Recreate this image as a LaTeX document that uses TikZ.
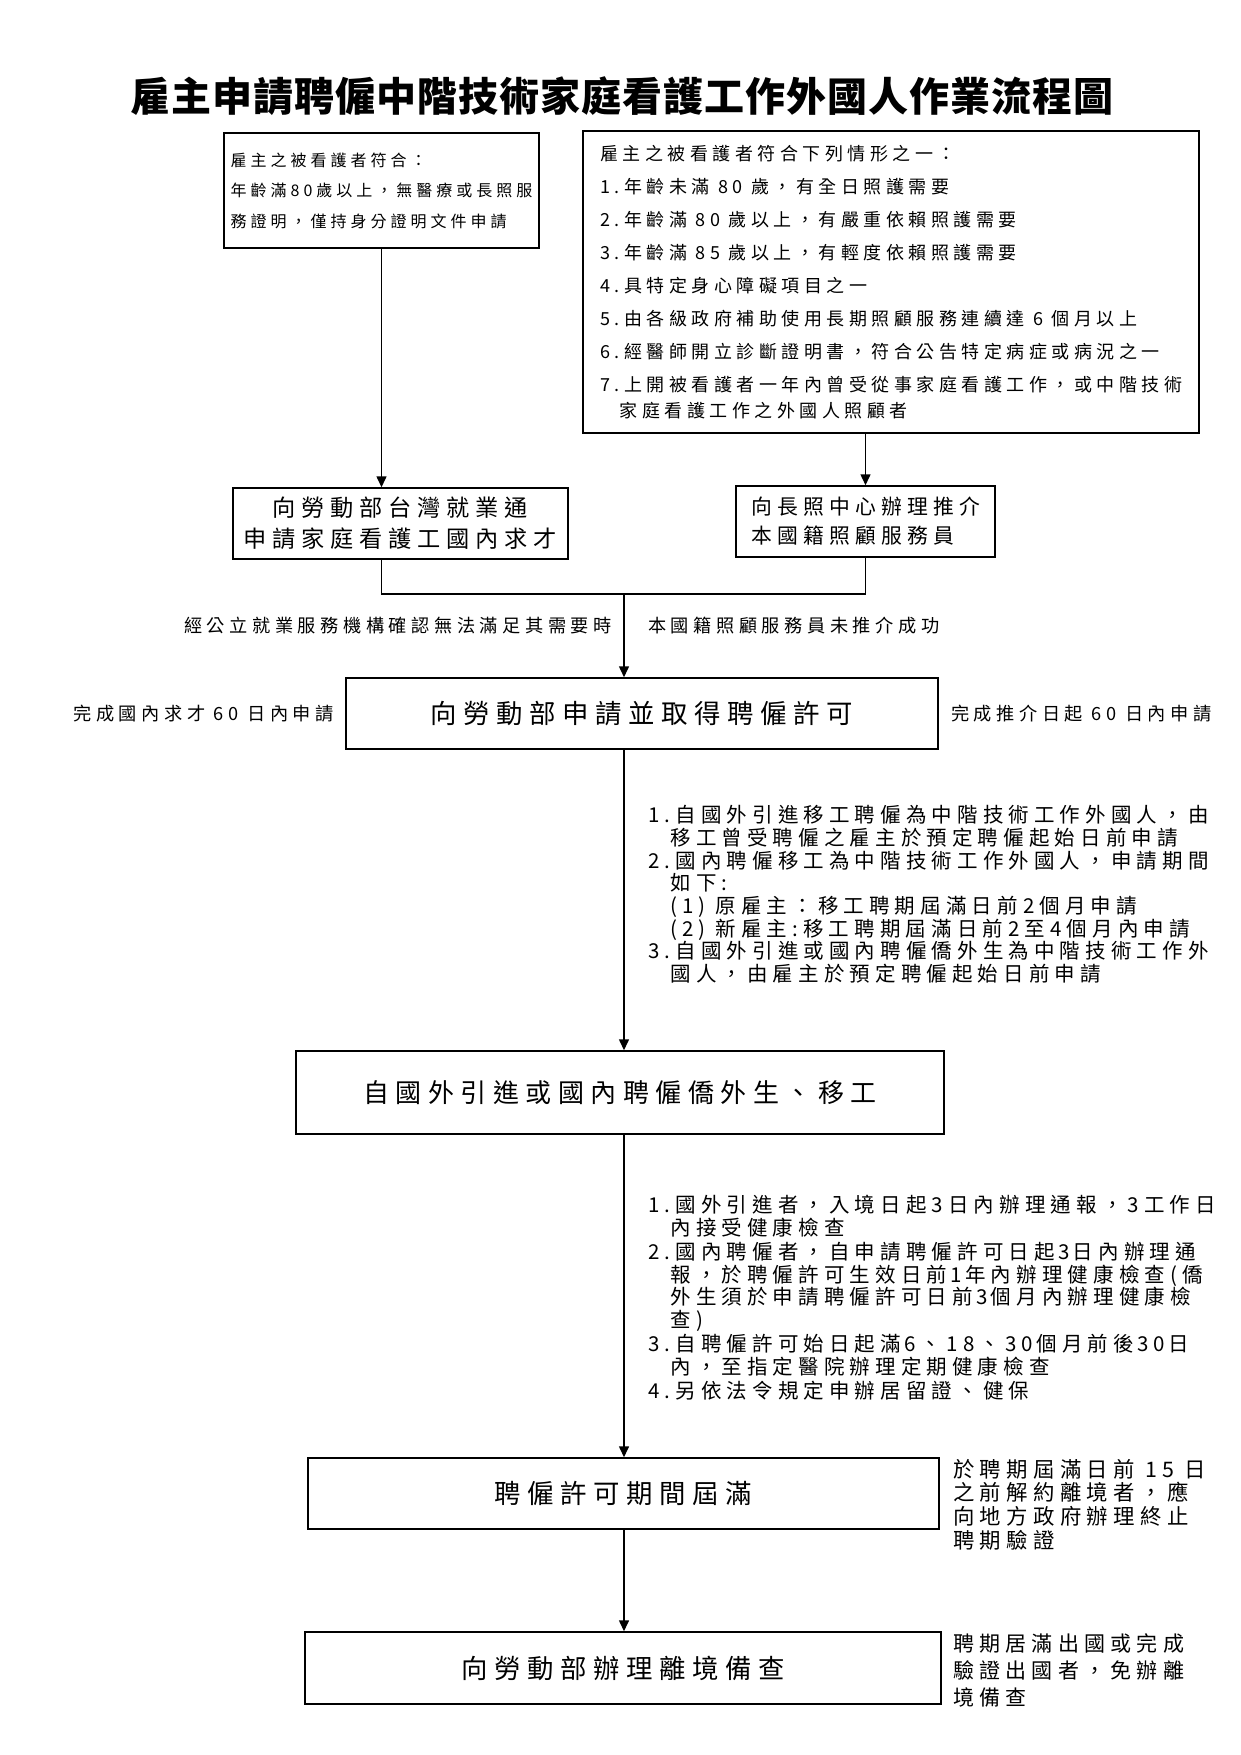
\documentclass[tikz,border=0pt]{standalone}
\usepackage{fontspec}
\setmainfont{Noto Sans CJK TC}[LetterSpace=25]
\usepackage{tikz}
\usetikzlibrary{arrows.meta,calc}
\newcommand{\fsz}[2]{\fontsize{#1pt}{#2pt}\selectfont}

\begin{document}
\begin{tikzpicture}[x=1pt, y=-1pt,
    box/.style={draw, line width=1.5pt, inner sep=0pt},
    note/.style={inner sep=0pt, align=left},
    link/.style={line width=1.5pt},
    arr/.style={link, -{Triangle[length=11pt,width=10pt]}}]
    \useasboundingbox (0,0) rectangle (1241,1755);

    % Title
    \node[inner sep=0pt, font=\fsz{40}{48}\bfseries\addfontfeature{LetterSpace=2.5}] (title) at (622,96) {雇主申請聘僱中階技術家庭看護工作外國人作業流程圖};

    % Who the cared-for person is
    \node[box, minimum width=315, minimum height=115, align=left, font=\fsz{16}{30.5}] (elig1) at (381.5,190.5)
        {雇主之被看護者符合：\\年齡滿80歲以上，無醫療或長照服\\務證明，僅持身分證明文件申請};
    \node[box, minimum width=616, minimum height=302, align=left, font=\fsz{18}{33}] (elig2) at (891,282)
        {雇主之被看護者符合下列情形之一：\\
         1.年齡未滿 80 歲，有全日照護需要\\
         2.年齡滿 80 歲以上，有嚴重依賴照護需要\\
         3.年齡滿 85 歲以上，有輕度依賴照護需要\\
         4.具特定身心障礙項目之一\\
         5.由各級政府補助使用長期照顧服務連續達 6 個月以上\\
         6.經醫師開立診斷證明書，符合公告特定病症或病況之一\\
         7.上開被看護者一年內曾受從事家庭看護工作，或中階技術\\[-7pt]
         \phantom{7.}家庭看護工作之外國人照顧者};

    % Domestic recruiting and local caregiver referral
    \node[box, minimum width=335, minimum height=71, align=center, font=\fsz{23.2}{31}] (jobbank) at (400.5,523.5)
        {向勞動部台灣就業通\\申請家庭看護工國內求才};
    \node[box, minimum width=259, minimum height=71, align=left, font=\fsz{20.8}{29}] (ltc) at (865.5,521.5)
        {向長照中心辦理推介\\本國籍照顧服務員};

    \node[note, anchor=east, font=\fsz{18.2}{22}] (nojob) at (612,626) {經公立就業服務機構確認無法滿足其需要時};
    \node[note, anchor=west, font=\fsz{18.2}{22}] (noref) at (648,626) {本國籍照顧服務員未推介成功};

    % Permit
    \node[box, minimum width=592, minimum height=71, font=\fsz{26.4}{30}] (permit) at (642,713.5) {向勞動部申請並取得聘僱許可};
    \node[note, anchor=east, font=\fsz{18.2}{22}] (due1) at (334,714) {完成國內求才 60 日內申請};
    \node[note, anchor=west, font=\fsz{18.2}{22}] (due2) at (951,714) {完成推介日起 60 日內申請};

    \node[note, anchor=west, font=\fsz{20.5}{22.7}] (rule1) at (648,894.5)
        {1.自國外引進移工聘僱為中階技術工作外國人，由\\
         \phantom{1.}移工曾受聘僱之雇主於預定聘僱起始日前申請\\
         2.國內聘僱移工為中階技術工作外國人，申請期間\\
         \phantom{2.}如下:\\
         \phantom{2.}(1) 原雇主：移工聘期屆滿日前2個月申請\\
         \phantom{2.}(2) 新雇主:移工聘期屆滿日前2至4個月內申請\\
         3.自國外引進或國內聘僱僑外生為中階技術工作外\\
         \phantom{3.}國人，由雇主於預定聘僱起始日前申請};

    % Hiring
    \node[box, minimum width=648, minimum height=83, font=\fsz{26}{30}] (hire) at (620,1092.5) {自國外引進或國內聘僱僑外生、移工};

    \node[note, anchor=west, font=\fsz{20.5}{22.5}] (rule2) at (648,1298)
        {1.國外引進者，入境日起3日內辦理通報，3工作日\\
         \phantom{1.}內接受健康檢查\\[2pt]
         2.國內聘僱者，自申請聘僱許可日起\,3\,日內辦理通\\
         \phantom{2.}報，於聘僱許可生效日前\,1\,年內辦理健康檢查(僑\\
         \phantom{2.}外生須於申請聘僱許可日前\,3\,個月內辦理健康檢\\
         \phantom{2.}查)\\[2pt]
         3.自聘僱許可始日起滿\,6、18、30\,個月前後\,30\,日\\
         \phantom{3.}內，至指定醫院辦理定期健康檢查\\[2pt]
         4.另依法令規定申辦居留證、健保};

    % End of permit
    \node[box, minimum width=631, minimum height=71, font=\fsz{26.4}{30}] (expire) at (623.5,1493.5) {聘僱許可期間屆滿};
    \node[note, anchor=west, font=\fsz{21.4}{23.6}] (expnote) at (953,1504.5)
        {於聘期屆滿日前 15 日\\之前解約離境者，應\\向地方政府辦理終止\\聘期驗證};

    \node[box, minimum width=636, minimum height=72, font=\fsz{26.4}{30}] (exit) at (623,1668) {向勞動部辦理離境備查};
    \node[note, anchor=west, font=\fsz{21}{27}] (exitnote) at (953,1670)
        {聘期居滿出國或完成\\驗證出國者，免辦離\\境備查};

    % Connectors
    \coordinate (join) at (624,594);
    \draw[arr] (elig1.south) -- (elig1.south |- jobbank.north);
    \draw[arr] (ltc.north |- elig2.south) -- (ltc.north);
    \draw[link] (elig1.south |- jobbank.south) |- (join) -| (ltc.south);
    \draw[arr] (join) -- (join |- permit.north);
    \foreach \a/\b in {permit/hire, hire/expire, expire/exit} {
        \draw[arr] (join |- \a.south) -- (join |- \b.north);
    }
\end{tikzpicture}
\end{document}
